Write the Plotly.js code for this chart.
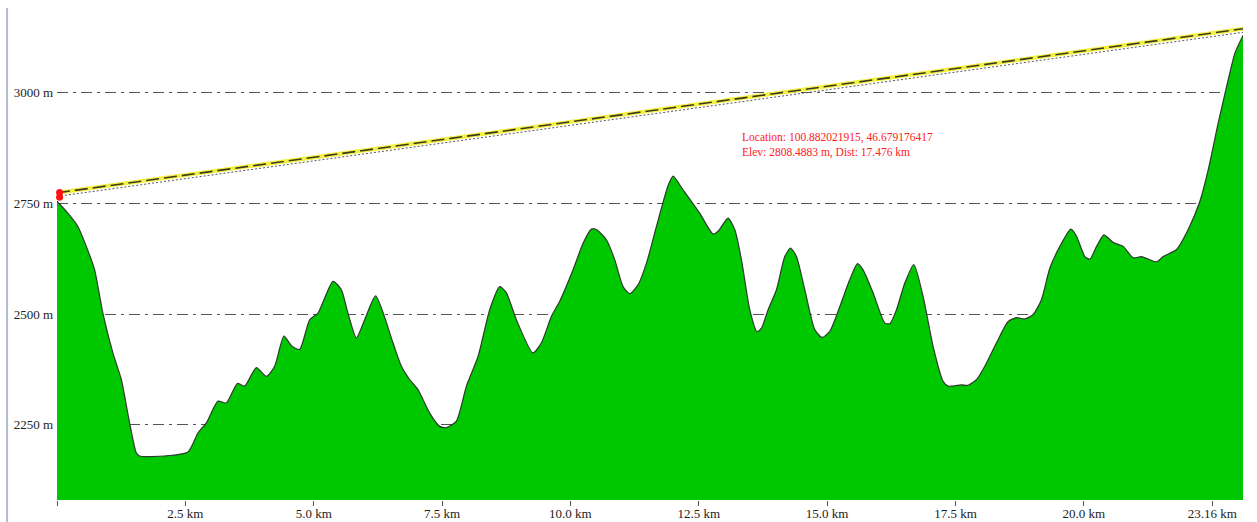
<!DOCTYPE html>
<html>
<head>
<meta charset="utf-8">
<script src="https://cdn.plot.ly/plotly-3.0.1.min.js"></script>
<style>html,body{margin:0;padding:0;background:#fff;}#chart{width:1257px;height:522px;}</style>
</head>
<body>
<div id="chart"></div>
<script>
// Distance along route (km)
const distKm = [0,0.212,0.407,0.571,0.733,0.894,1.089,1.253,1.414,1.545,1.609,2.096,2.550,2.745,2.909,3.135,3.298,3.513,3.655,3.883,4.078,4.239,4.420,4.576,4.726,4.921,5.083,5.375,5.539,5.667,5.831,5.992,6.207,6.544,6.708,6.869,7.031,7.259,7.454,7.584,7.779,7.974,8.200,8.428,8.623,8.753,8.948,9.271,9.435,9.630,9.792,10.051,10.246,10.409,10.507,10.701,10.863,11.025,11.155,11.317,11.481,11.675,11.901,11.999,12.194,12.519,12.778,12.876,13.070,13.201,13.331,13.493,13.635,13.721,13.850,14.013,14.175,14.286,14.403,14.565,14.759,14.902,15.052,15.247,15.441,15.591,15.700,15.895,16.123,16.221,16.351,16.513,16.688,16.869,17.064,17.259,17.356,17.617,17.746,17.910,18.071,18.299,18.525,18.689,18.850,19.012,19.176,19.338,19.533,19.747,19.858,20.020,20.117,20.248,20.390,20.571,20.766,20.961,21.124,21.417,21.545,21.806,22.032,22.260,22.422,22.617,22.780,22.942,23.1];
// Elevation (m)
const elevM = [2755,2728,2698,2653,2600,2502,2412,2352,2254,2186,2179,2179,2188,2231,2254,2303,2299,2343,2337,2379,2359,2382,2450,2427,2420,2487,2502,2574,2555,2502,2446,2487,2541,2435,2382,2352,2329,2276,2246,2243,2258,2337,2404,2510,2562,2548,2487,2412,2435,2495,2529,2600,2660,2692,2691,2668,2623,2562,2546,2566,2615,2698,2790,2812,2781,2728,2681,2687,2717,2691,2623,2510,2460,2468,2510,2555,2630,2649,2630,2555,2465,2447,2461,2517,2578,2614,2600,2548,2480,2478,2510,2570,2612,2540,2427,2348,2337,2340,2339,2352,2382,2435,2483,2492,2489,2499,2533,2604,2653,2692,2676,2630,2624,2653,2679,2662,2653,2627,2630,2618,2630,2646,2691,2755,2826,2932,3014,3090,3130];

// Line of sight
const sightX = [0, 23.1];
const sightY = [2774, 3145];
const sightDottedY = [2766, 3137];

// Start marker
const markerX = [0.05, 0.05];
const markerY = [2775, 2764];

// Axis ticks
const yTickVals = [2250, 2500, 2750, 3000];
const yTickText = ['2250 m', '2500 m', '2750 m', '3000 m'];
const xTickVals = [0, 2.5, 5, 7.5, 10, 12.5, 15, 17.5, 20, 22.5];
const xTickText = ['', '2.5 km', '5.0 km', '7.5 km', '10.0 km', '12.5 km', '15.0 km', '17.5 km', '20.0 km', '23.16 km'];

const infoLines = ['Location: 100.882021915, 46.679176417', 'Elev: 2808.4883 m, Dist: 17.476 km'];

const serif = 'Liberation Serif, Times New Roman, serif';

const traces = [
  {
    x: distKm, y: elevM, type: 'scatter', mode: 'lines',
    fill: 'tozeroy', fillcolor: '#00c800',
    line: {color: 'rgba(40,40,40,0.9)', width: 1.2, shape: 'spline', smoothing: 0.6},
    hoverinfo: 'skip'
  },
  {
    x: sightX, y: sightDottedY, type: 'scatter', mode: 'lines',
    line: {color: '#555', width: 1, dash: '2px,2px'}
  },
  {
    x: sightX, y: sightY, type: 'scatter', mode: 'lines',
    line: {color: '#f4f040', width: 4}
  },
  {
    x: sightX, y: sightY, type: 'scatter', mode: 'lines',
    line: {color: '#3a3a20', width: 1.6, dash: '13px,5px'}
  },
  {
    x: markerX, y: markerY, type: 'scatter', mode: 'markers',
    marker: {color: '#ff1010', size: 7, symbol: 'circle'},
    cliponaxis: false
  }
];

const layout = {
  width: 1257, height: 522,
  margin: {l: 57.4, r: 14, t: 8, b: 21.5},
  paper_bgcolor: '#fff', plot_bgcolor: '#fff',
  showlegend: false,
  font: {family: serif, size: 13, color: '#222'},
  xaxis: {
    range: [0, 23.1],
    tickvals: xTickVals, ticktext: xTickText,
    ticks: 'outside', ticklen: 5, tickcolor: '#555', tickwidth: 1,
    ticklabelstandoff: -4,
    showgrid: false, zeroline: false, showline: false,
    tickfont: {family: serif, size: 13, color: '#222'},
    fixedrange: true
  },
  yaxis: {
    range: [2079.5, 3192],
    tickvals: yTickVals, ticktext: yTickText,
    ticks: '', ticklabelstandoff: 3,
    showgrid: true, gridcolor: '#555', gridwidth: 1, griddash: '11px,5px,3px,5px',
    zeroline: false, showline: false,
    tickfont: {family: serif, size: 13, color: '#222'},
    fixedrange: true
  },
  shapes: [
    {type: 'line', xref: 'paper', yref: 'paper', x0: -0.0421, x1: -0.0421, y0: -0.05, y1: 1,
     line: {color: '#b4bccb', width: 2}}
  ],
  annotations: [
    {xref: 'paper', yref: 'paper', x: 0.5757, y: 0.7208, xanchor: 'left', yanchor: 'middle', align: 'left',
     text: infoLines.join('<br>'), showarrow: false,
     font: {family: serif, size: 11.5, color: '#ff2020'}}
  ]
};

Plotly.newPlot('chart', traces, layout, {staticPlot: true, displayModeBar: false});
</script>
</body>
</html>
